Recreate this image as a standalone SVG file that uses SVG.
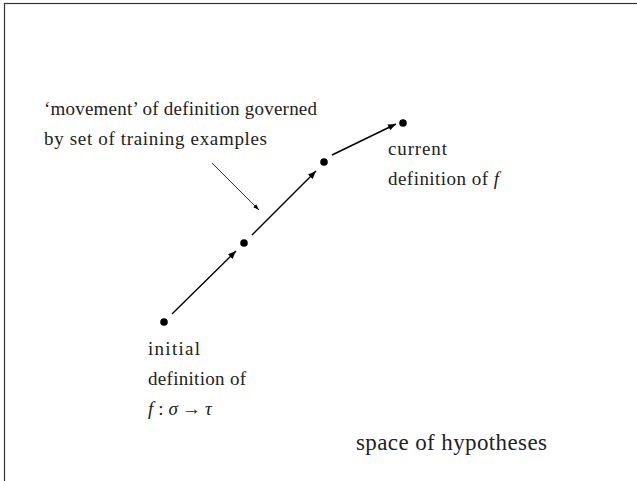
<svg xmlns="http://www.w3.org/2000/svg" width="637" height="481" viewBox="0 0 637 481">
<style>
.s{font-size:19px;}
.b{font-size:23px;}
.i{font-style:italic;}
.c{stroke:#000;stroke-width:1.4;fill:none;}
.t{stroke:#000;stroke-width:0.8;fill:none;}
.dot{fill:#000;}
</style>
<defs>
<marker id="ah" viewBox="0 0 10 10" refX="10" refY="5" markerWidth="8" markerHeight="8" markerUnits="userSpaceOnUse" orient="auto">
<path d="M0,1 L10,5 L0,9 Z" fill="#000"/>
</marker>
<marker id="ahs" viewBox="0 0 10 10" refX="10" refY="5" markerWidth="6" markerHeight="6" markerUnits="userSpaceOnUse" orient="auto">
<path d="M0,1.5 L10,5 L0,8.5 Z" fill="#000"/>
</marker>
</defs>
<rect x="4.5" y="3.5" width="640" height="490" fill="none" stroke="#333" stroke-width="1.2"/>
<g id="connectors">
<line class="c" x1="172" y1="314" x2="236" y2="251" marker-end="url(#ah)"/>
<line class="c" x1="252" y1="235" x2="316" y2="171" marker-end="url(#ah)"/>
<line class="c" x1="332" y1="155" x2="396" y2="124" marker-end="url(#ah)"/>
<line class="t" x1="212" y1="163" x2="259" y2="210" marker-end="url(#ahs)"/>
</g>
<g id="n1"><circle class="dot" cx="164" cy="322" r="3.8"/></g>
<g id="n2"><circle class="dot" cx="244" cy="243" r="3.8"/></g>
<g id="n3"><circle class="dot" cx="324" cy="162" r="3.8"/></g>
<g id="n4"><circle class="dot" cx="403" cy="123" r="3.8"/></g>
<g font-family="'Liberation Serif', 'Times New Roman', serif" fill="#222">
<g id="label-movement">
<text class="s" x="44" y="115" textLength="273" lengthAdjust="spacing">‘movement’ of definition governed</text>
<text class="s" x="44" y="145" textLength="223" lengthAdjust="spacing">by set of training examples</text>
</g>
<g id="label-current">
<text class="s" x="388" y="155" textLength="59" lengthAdjust="spacing">current</text>
<text class="s" x="388" y="185" textLength="111" lengthAdjust="spacing">definition of <tspan class="i">f</tspan></text>
</g>
<g id="label-initial">
<text class="s" x="148" y="355" textLength="52" lengthAdjust="spacing">initial</text>
<text class="s" x="148" y="385" textLength="98" lengthAdjust="spacing">definition of</text>
<text class="s" x="148" y="415"><tspan class="i">f</tspan><tspan dx="5">:</tspan><tspan class="i" dx="5">σ</tspan><tspan dx="4">→</tspan><tspan class="i" dx="4">τ</tspan></text>
</g>
<g id="label-space">
<text class="b" x="356" y="450" textLength="191" lengthAdjust="spacing">space of hypotheses</text>
</g>
</g>
</svg>
